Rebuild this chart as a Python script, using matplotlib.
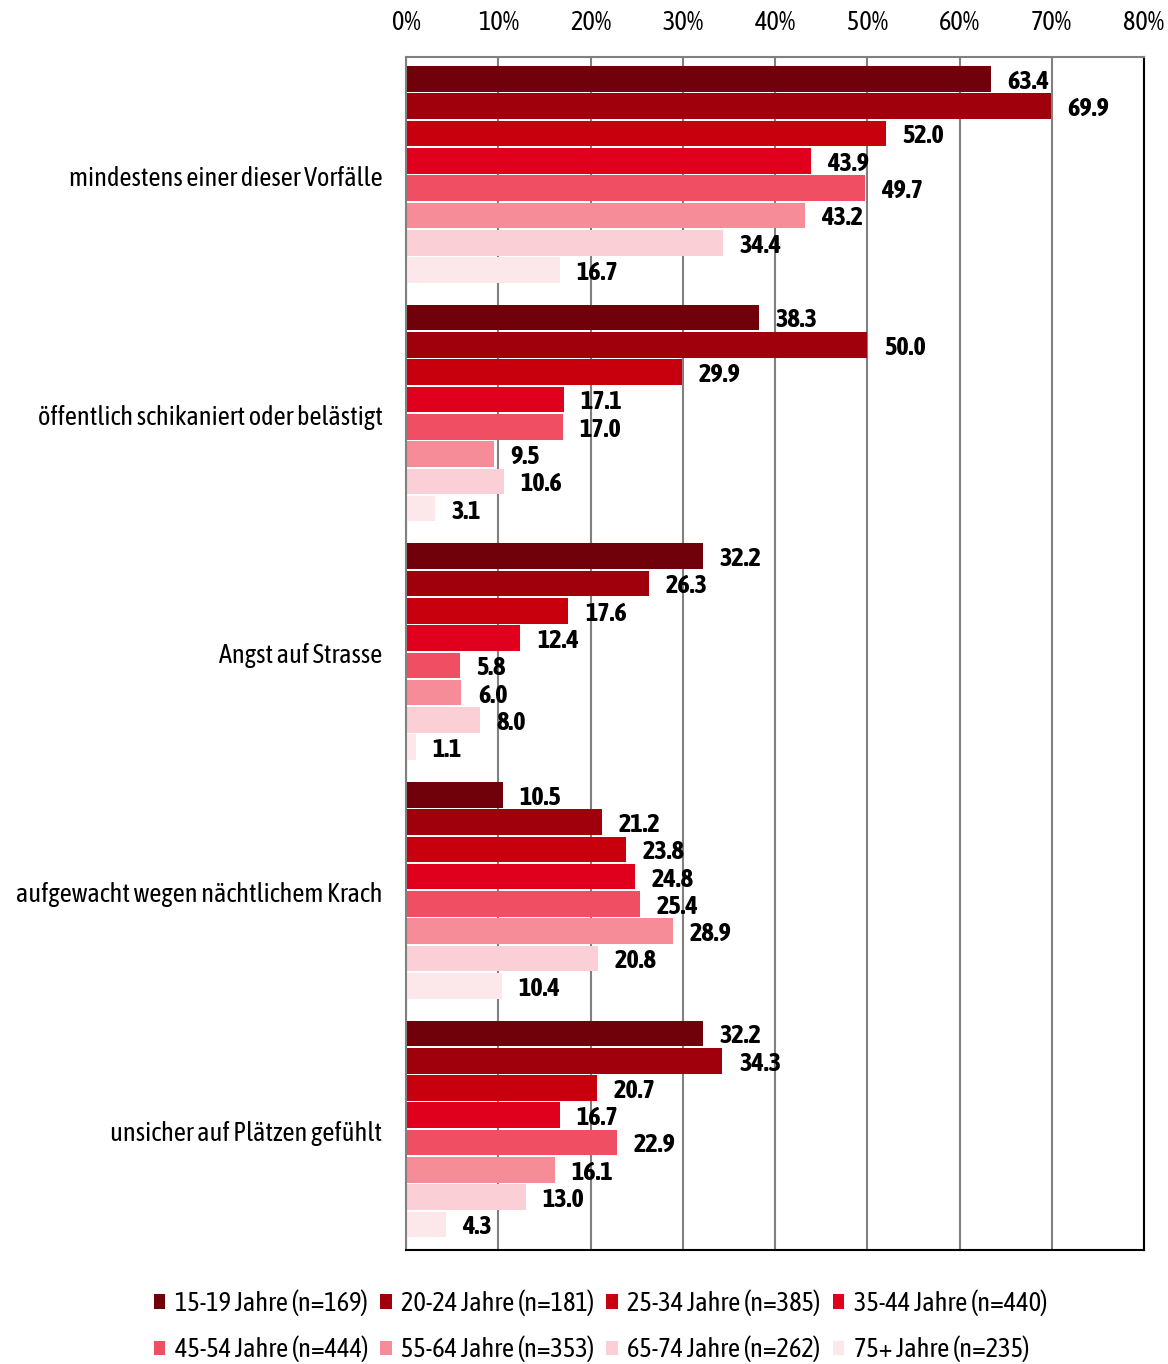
import matplotlib.pyplot as plt
from matplotlib import font_manager
import numpy as np

# pick a narrow font that has a bold face, if there is one
fonts = font_manager.fontManager.ttflist
narrow = sorted({f.name for f in fonts if 'Narrow' in f.name or 'Condensed' in f.name})
with_bold = [nm for nm in narrow
             if any(f.name == nm and (f.weight in ('bold', 'semibold', 'heavy', 'black')
                                      or (isinstance(f.weight, int) and f.weight >= 600))
                    for f in fonts)]
if with_bold:
    FAM = with_bold[0]
elif narrow:
    FAM = narrow[0]
else:
    FAM = 'Liberation Sans'
FS = 19 if narrow else 15
plt.rcParams['font.family'] = [FAM, 'DejaVu Sans']

categories = ['mindestens einer dieser Vorfälle',
              'öffentlich schikaniert oder belästigt',
              'Angst auf Strasse',
              'aufgewacht wegen nächtlichem Krach',
              'unsicher auf Plätzen gefühlt']

series = ['15-19 Jahre (n=169)', '20-24 Jahre (n=181)', '25-34 Jahre (n=385)',
          '35-44 Jahre (n=440)', '45-54 Jahre (n=444)', '55-64 Jahre (n=353)',
          '65-74 Jahre (n=262)', '75+ Jahre (n=235)']

values = [
    [63.4, 38.3, 32.2, 10.5, 32.2],
    [69.9, 50.0, 26.3, 21.2, 34.3],
    [52.0, 29.9, 17.6, 23.8, 20.7],
    [43.9, 17.1, 12.4, 24.8, 16.7],
    [49.7, 17.0, 5.8, 25.4, 22.9],
    [43.2, 9.5, 6.0, 28.9, 16.1],
    [34.4, 10.6, 8.0, 20.8, 13.0],
    [16.7, 3.1, 1.1, 10.4, 4.3],
]

colors = ['#70000A', '#A0000C', '#C8000E', '#E0001E',
          '#F04E62', '#F68C98', '#FBCFD6', '#FCE8EB']

fig = plt.figure(figsize=(11.68, 13.64), dpi=100)
ax = fig.add_axes([0.3476, 0.0836, 0.6319, 0.8746])

n = len(series)
step = 0.1144
height = step * 0.94
base = np.arange(len(categories))
for j in range(n):
    y = base - 0.5 + 0.035 + step * (j + 0.5)
    ax.barh(y, values[j], height=height, color=colors[j], label=series[j], zorder=2)
    for yy, v in zip(y, values[j]):
        ax.text(v + 1.8, yy + 0.01, f'{v:.1f}', va='center', ha='left',
                fontsize=FS, fontweight='bold', zorder=3)

ax.set_ylim(len(categories) - 0.5, -0.5)
ax.set_xlim(0, 80)
ax.set_yticks(base)
ax.set_yticklabels(categories, fontsize=FS)
ax.tick_params(axis='y', length=0, pad=17)
ax.set_xticks(np.arange(0, 81, 10))
ax.set_xticklabels([f'{v}%' for v in range(0, 81, 10)], fontsize=FS)
ax.xaxis.tick_top()
ax.tick_params(axis='x', length=0, pad=16)
ax.grid(axis='x', color='#808080', linewidth=1.5, zorder=1)

ax.spines['left'].set_color('#808080')
ax.spines['top'].set_color('#808080')
ax.spines['right'].set_color('black')
ax.spines['bottom'].set_color('black')
for s in ax.spines.values():
    s.set_linewidth(1.5)

# legend filled row by row, like the original
handles, labels = ax.get_legend_handles_labels()
order = [0, 4, 1, 5, 2, 6, 3, 7]
fig.legend([handles[i] for i in order], [labels[i] for i in order],
           loc='center', bbox_to_anchor=(0.514, 0.028), ncol=4,
           frameon=False, fontsize=FS, handlelength=0.45, handleheight=0.45,
           handletextpad=0.35, columnspacing=0.45, labelspacing=0.75)

fig.savefig('out.png', dpi=100)
